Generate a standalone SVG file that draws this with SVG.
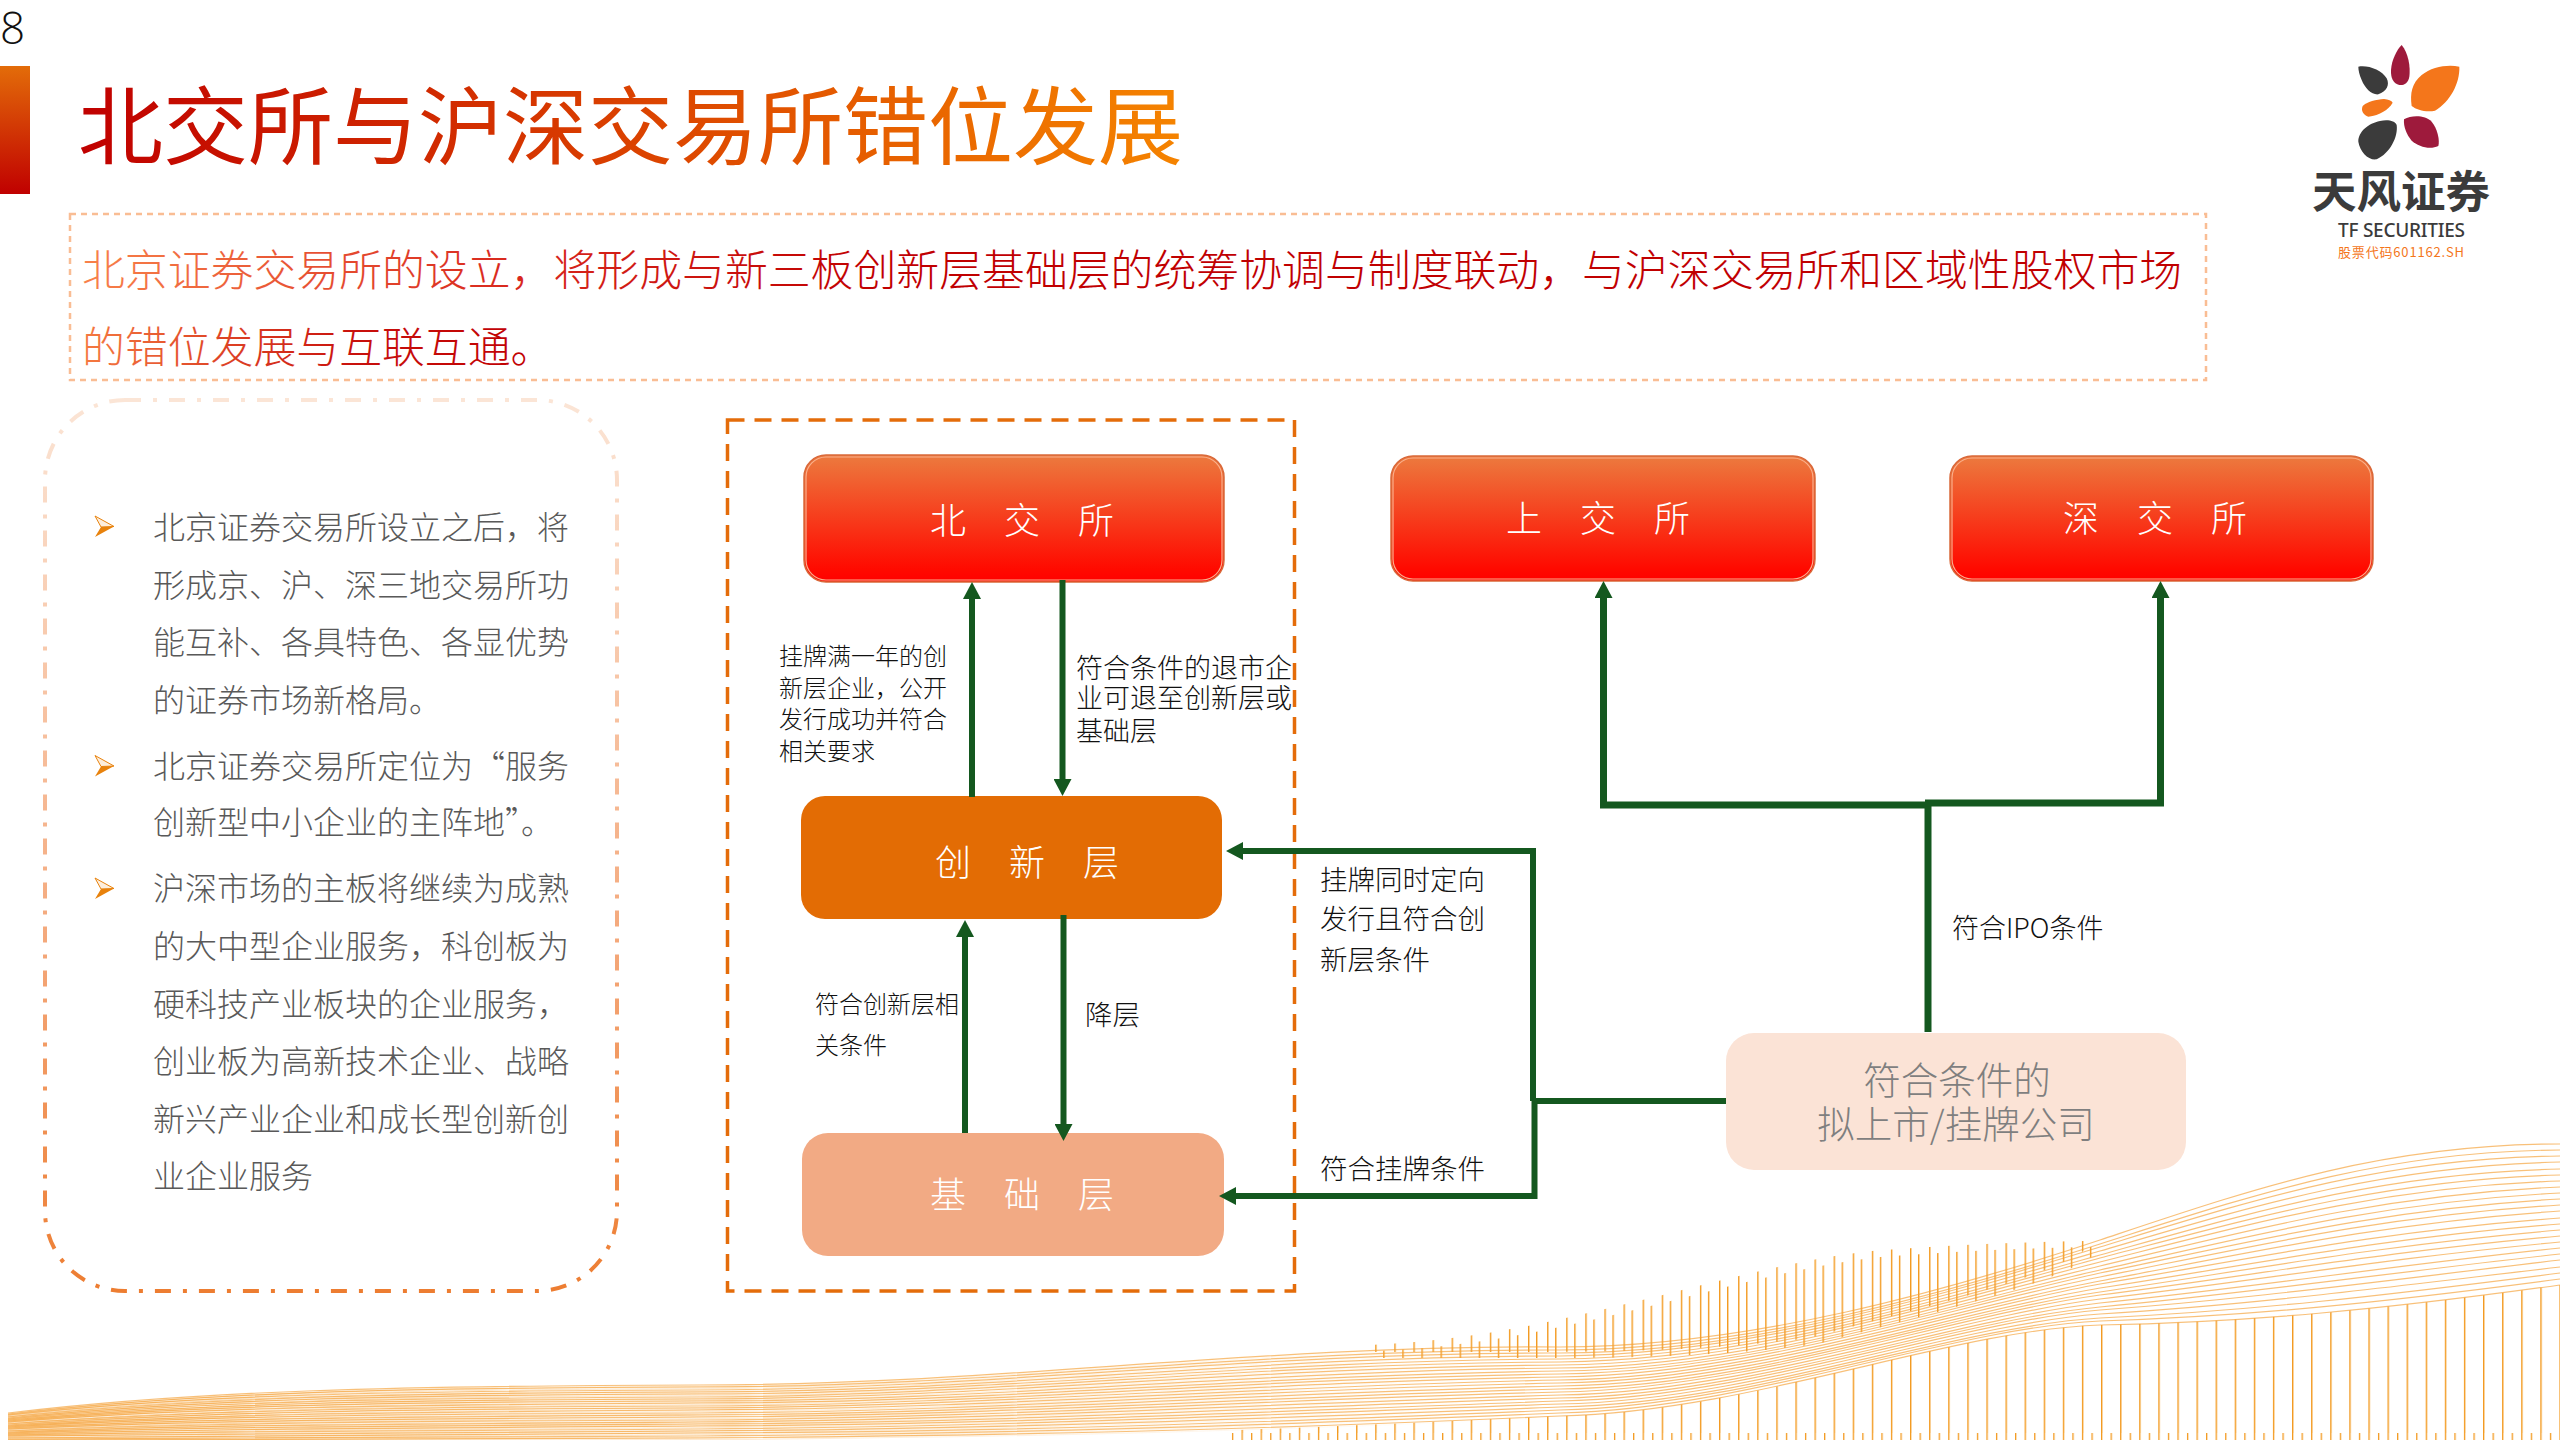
<svg xmlns="http://www.w3.org/2000/svg" width="2560" height="1440" viewBox="0 0 2560 1440">
<style>
text{font-family:"Noto Sans CJK SC","Noto Sans",sans-serif;font-weight:300}
.conn{fill:none;stroke:#14581f;stroke-width:6}
.ipo{stroke-width:7}
.arr{marker-end:url(#ah)}
.lab{font-size:24px;fill:#111}
.lab27{font-size:27.5px;fill:#111}
.nl{font-size:36px;fill:#fff;text-anchor:middle;word-spacing:30px}
.bt{font-size:32px;fill:#595959}
.wl path{fill:none;stroke:#f4a033;stroke-width:1.2;stroke-opacity:.66}
.ex{fill:url(#ng);stroke:#d9693a;stroke-width:1.5}
.exi{fill:none;stroke:#f9b08c;stroke-width:1.2}
.pt{fill:#fdeedd;stroke:#e8820c;stroke-width:1}
.pb{fill:#e8820c}
</style>
<defs>
<linearGradient id="bar" x1="0" y1="0" x2="0" y2="1"><stop offset="0" stop-color="#e36c09"/><stop offset="1" stop-color="#c00000"/></linearGradient>
<linearGradient id="tg" gradientUnits="userSpaceOnUse" x1="79" y1="0" x2="1178" y2="0"><stop offset="0" stop-color="#c00000"/><stop offset="1" stop-color="#f58300"/></linearGradient>
<linearGradient id="h1" gradientUnits="userSpaceOnUse" x1="82" y1="0" x2="2182" y2="0"><stop offset="0" stop-color="#f8814a"/><stop offset=".2" stop-color="#d92a1e"/><stop offset=".38" stop-color="#c00000"/><stop offset="1" stop-color="#c00000"/></linearGradient>
<linearGradient id="h2" gradientUnits="userSpaceOnUse" x1="82" y1="0" x2="540" y2="0"><stop offset="0" stop-color="#f57a40"/><stop offset=".6" stop-color="#c8100c"/><stop offset="1" stop-color="#c00000"/></linearGradient>
<linearGradient id="ng" x1="0" y1="0" x2="0" y2="1"><stop offset="0" stop-color="#ec7a3e"/><stop offset=".9" stop-color="#ff0a00"/><stop offset="1" stop-color="#ff0000"/></linearGradient>
<linearGradient id="lb" x1="0" y1="0" x2="0" y2="1"><stop offset="0" stop-color="#fbe5d6"/><stop offset=".6" stop-color="#f4a97c"/><stop offset="1" stop-color="#ed7d31"/></linearGradient>
<linearGradient id="fg" gradientUnits="userSpaceOnUse" x1="100" y1="0" x2="1500" y2="0"><stop offset="0" stop-color="#fff"/><stop offset="1" stop-color="#000"/></linearGradient>
<marker id="ah" markerUnits="userSpaceOnUse" markerWidth="18" markerHeight="18" refX="5" refY="9" orient="auto"><path d="M0 0L17 9L0 18Z" fill="#14581f"/></marker>
<pattern id="comb" patternUnits="userSpaceOnUse" width="19.1" height="10"><rect x="0" y="0" width="1.4" height="10" fill="#f39a20"/></pattern>
<pattern id="tick" patternUnits="userSpaceOnUse" width="9.55" height="10"><rect x="0" y="0" width="1.3" height="10" fill="#f39a20"/></pattern>
<mask id="fade" maskUnits="userSpaceOnUse" x="0" y="1300" width="1500" height="140"><rect x="0" y="1300" width="1500" height="140" fill="url(#fg)"/></mask>
</defs>
<rect width="2560" height="1440" fill="#fff"/>
<g id="wave">
<path fill="url(#comb)" d="M1370 1345C1480 1340 1560 1320 1655 1297C1740 1275 1820 1255 1884 1250C1950 1245 2020 1242 2085 1241V1250C2040 1280 1950 1300 1810 1338C1720 1350 1620 1352 1540 1352L1370 1352Z"/>
<path fill="url(#comb)" transform="translate(8,6)" d="M1370 1345C1480 1340 1560 1320 1655 1297C1740 1275 1820 1255 1884 1250C1950 1245 2020 1242 2085 1241V1250C2040 1280 1950 1300 1810 1338C1720 1350 1620 1352 1540 1352L1370 1352Z"/>
<path fill="url(#comb)" d="M1240 1430C1350 1426 1450 1421 1560 1416C1750 1412 1950 1330 2100 1325C2250 1322 2380 1310 2560 1285V1433H1240Z"/>
<rect x="1225" y="1433" width="1335" height="7" fill="url(#tick)"/>
<g class="wl" id="wavelines">
<path d="M8 1413C200 1390 400 1386 700 1385C1000 1385 1250 1345 1560 1347C1750 1347 1950 1290 2100 1240C2250 1190 2380 1144 2560 1144"/>
<path d="M8 1414C200 1392 400 1388 700 1387C1000 1387 1250 1349 1560 1350C1750 1350 1950 1292 2100 1244C2250 1196 2380 1151 2560 1150"/>
<path d="M8 1415C200 1394 400 1391 700 1390C1000 1389 1250 1352 1560 1353C1750 1353 1950 1293 2100 1247C2250 1201 2380 1158 2560 1156"/>
<path d="M8 1417C200 1397 400 1393 700 1392C1000 1392 1250 1356 1560 1356C1750 1355 1950 1295 2100 1251C2250 1207 2380 1166 2560 1162"/>
<path d="M8 1418C200 1399 400 1395 700 1394C1000 1394 1250 1360 1560 1359C1750 1358 1950 1297 2100 1255C2250 1213 2380 1173 2560 1169"/>
<path d="M8 1419C200 1401 400 1398 700 1397C1000 1396 1250 1363 1560 1362C1750 1361 1950 1299 2100 1258C2250 1219 2380 1180 2560 1175"/>
<path d="M8 1420C200 1403 400 1400 700 1399C1000 1398 1250 1367 1560 1365C1750 1364 1950 1300 2100 1262C2250 1224 2380 1187 2560 1181"/>
<path d="M8 1421C200 1405 400 1402 700 1401C1000 1401 1250 1371 1560 1368C1750 1367 1950 1302 2100 1266C2250 1230 2380 1195 2560 1187"/>
<path d="M8 1422C200 1407 400 1405 700 1403C1000 1403 1250 1375 1560 1371C1750 1370 1950 1304 2100 1270C2250 1236 2380 1202 2560 1193"/>
<path d="M8 1424C200 1410 400 1407 700 1406C1000 1405 1250 1378 1560 1374C1750 1372 1950 1306 2100 1273C2250 1242 2380 1209 2560 1199"/>
<path d="M8 1425C200 1412 400 1409 700 1408C1000 1407 1250 1382 1560 1377C1750 1375 1950 1307 2100 1277C2250 1247 2380 1216 2560 1205"/>
<path d="M8 1426C200 1414 400 1412 700 1410C1000 1409 1250 1386 1560 1380C1750 1378 1950 1309 2100 1281C2250 1253 2380 1223 2560 1211"/>
<path d="M8 1427C200 1416 400 1414 700 1413C1000 1412 1250 1389 1560 1383C1750 1381 1950 1311 2100 1284C2250 1259 2380 1231 2560 1218"/>
<path d="M8 1428C200 1418 400 1417 700 1415C1000 1414 1250 1393 1560 1386C1750 1384 1950 1313 2100 1288C2250 1265 2380 1238 2560 1224"/>
<path d="M8 1429C200 1420 400 1419 700 1417C1000 1416 1250 1397 1560 1389C1750 1387 1950 1314 2100 1292C2250 1270 2380 1245 2560 1230"/>
<path d="M8 1431C200 1423 400 1421 700 1420C1000 1418 1250 1400 1560 1392C1750 1389 1950 1316 2100 1295C2250 1276 2380 1252 2560 1236"/>
<path d="M8 1432C200 1425 400 1424 700 1422C1000 1420 1250 1404 1560 1395C1750 1392 1950 1318 2100 1299C2250 1282 2380 1259 2560 1242"/>
<path d="M8 1433C200 1427 400 1426 700 1424C1000 1423 1250 1408 1560 1398C1750 1395 1950 1320 2100 1303C2250 1288 2380 1267 2560 1248"/>
<path d="M8 1434C200 1429 400 1428 700 1426C1000 1425 1250 1412 1560 1401C1750 1398 1950 1321 2100 1307C2250 1293 2380 1274 2560 1254"/>
<path d="M8 1435C200 1431 400 1431 700 1429C1000 1427 1250 1415 1560 1404C1750 1401 1950 1323 2100 1310C2250 1299 2380 1281 2560 1260"/>
<path d="M8 1436C200 1433 400 1433 700 1431C1000 1429 1250 1419 1560 1407C1750 1404 1950 1325 2100 1314C2250 1305 2380 1288 2560 1267"/>
<path d="M8 1438C200 1436 400 1435 700 1433C1000 1432 1250 1423 1560 1410C1750 1406 1950 1327 2100 1318C2250 1311 2380 1296 2560 1273"/>
<path d="M8 1439C200 1438 400 1438 700 1436C1000 1434 1250 1426 1560 1413C1750 1409 1950 1328 2100 1321C2250 1316 2380 1303 2560 1279"/>
<path d="M8 1440C200 1440 400 1440 700 1438C1000 1436 1250 1430 1560 1416C1750 1412 1950 1330 2100 1325C2250 1322 2380 1310 2560 1285"/>
</g>
<g mask="url(#fade)" opacity=".6"><use href="#wavelines" transform="translate(0,1.6)"/></g>
</g>
<g id="header">
<text x="0" y="44" style="font-family:'Open Sans',sans-serif;font-size:44px;font-weight:300" fill="#111">8</text>
<rect x="0" y="66" width="30" height="128" fill="url(#bar)"/>
<text x="78" y="158" font-size="85" fill="url(#tg)" style="font-weight:400">北交所与沪深交易所错位发展</text>
</g>
<g id="logo">
<g transform="translate(2240,20) scale(.33333)">
<path fill="#9e1a3c" d="M485 75C505 100 512 140 508 170C505 190 490 197 478 195C460 190 452 175 453 150C455 120 470 90 485 75Z"/>
<path fill="#3b3b3b" d="M355 140C385 135 425 150 440 175C450 195 440 215 415 223C395 225 375 205 365 180C358 165 355 150 355 140Z"/>
<path fill="#f4761b" d="M658 140C660 190 630 245 585 272C560 278 530 270 515 258C510 220 515 190 545 165C575 140 625 132 658 140Z"/>
<path fill="#f4761b" d="M458 248C445 270 420 285 385 290C370 285 362 272 368 258C380 245 410 238 432 237C445 238 455 242 458 248Z"/>
<path fill="#3b3b3b" d="M470 315C475 350 450 400 410 418C385 422 360 395 355 365C355 335 385 310 420 303C445 298 465 303 470 315Z"/>
<path fill="#9e1a3c" d="M492 298C515 285 555 285 575 305C592 325 600 360 595 378C570 390 535 380 515 362C500 345 490 320 492 298Z"/>
</g>
<text x="2401" y="208" font-size="44.5" text-anchor="middle" fill="#3b3b3b" style="font-weight:700">天风证券</text>
<text x="2338" y="237" font-size="19" textLength="127" fill="#3b3b3b" style="font-family:'Noto Sans',sans-serif;font-weight:500">TF SECURITIES</text>
<text x="2338" y="257" font-size="13" textLength="126" fill="#f4761b" style="font-weight:400">股票代码601162.SH</text>
</g>
<g id="intro">
<rect x="70" y="214" width="2136" height="166" fill="none" stroke="#f9bd94" stroke-width="2.500" stroke-dasharray="6 5"/>
<text x="82" y="286" font-size="42.86" fill="url(#h1)">北京证券交易所的设立，将形成与新三板创新层基础层的统筹协调与制度联动，与沪深交易所和区域性股权市场</text>
<text x="82" y="363" font-size="42.86" fill="url(#h2)">的错位发展与互联互通。</text>
</g>
<g id="bullets">
<rect x="45" y="400" width="572" height="891" rx="80" ry="80" fill="none" stroke="url(#lb)" stroke-width="4" stroke-dasharray="16 12 4 12"/>
<g id="b1"><path class="pt" d="M95 516L114 526.500L101 527Z"/><path class="pb" d="M95 537L114 526.500L101 527Z"/></g>
<g id="b2"><path class="pt" d="M95 755.500L114 766L101 766.500Z"/><path class="pb" d="M95 776.500L114 766L101 766.500Z"/></g>
<g id="b3"><path class="pt" d="M95 878L114 888.500L101 889Z"/><path class="pb" d="M95 899L114 888.500L101 889Z"/></g>
<text class="bt" x="153" y="539">北京证券交易所设立之后，将</text>
<text class="bt" x="153" y="597">形成京、沪、深三地交易所功</text>
<text class="bt" x="153" y="654">能互补、各具特色、各显优势</text>
<text class="bt" x="153" y="712">的证券市场新格局。</text>
<text class="bt" x="153" y="778">北京证券交易所定位为“服务</text>
<text class="bt" x="153" y="834">创新型中小企业的主阵地”。</text>
<text class="bt" x="153" y="900">沪深市场的主板将继续为成熟</text>
<text class="bt" x="153" y="958">的大中型企业服务，科创板为</text>
<text class="bt" x="153" y="1016">硬科技产业板块的企业服务，</text>
<text class="bt" x="153" y="1073">创业板为高新技术企业、战略</text>
<text class="bt" x="153" y="1131">新兴产业企业和成长型创新创</text>
<text class="bt" x="153" y="1188">业企业服务</text>
</g>
<g id="frame"><rect x="727.500" y="420" width="567" height="871" fill="none" stroke="#e46c0a" stroke-width="3.500" stroke-dasharray="17 10"/></g>
<g id="n-bjs"><rect class="ex" x="804" y="455" width="420" height="127" rx="22"/><rect class="exi" x="806" y="457" width="416" height="123" rx="20"/><text class="nl" x="1022" y="534">北 交 所</text></g>
<g id="n-sse"><rect class="ex" x="1391" y="456" width="424" height="125" rx="22"/><rect class="exi" x="1393" y="458" width="420" height="121" rx="20"/><text class="nl" x="1598" y="532">上 交 所</text></g>
<g id="n-szse"><rect class="ex" x="1950" y="456" width="423" height="125" rx="22"/><rect class="exi" x="1952" y="458" width="419" height="121" rx="20"/><text class="nl" x="2155" y="532">深 交 所</text></g>
<g id="n-cx"><rect x="801" y="796" width="421" height="123" rx="24" fill="#e36c04"/><text class="nl" x="1027" y="876">创 新 层</text></g>
<g id="n-jc"><rect x="802" y="1133" width="422" height="123" rx="26" fill="#f2aa84"/><text class="nl" x="1022" y="1208">基 础 层</text></g>
<g id="n-co"><rect x="1726" y="1033" width="460" height="137" rx="28" fill="#fbe3d6"/><text x="1957" y="1094" font-size="37.500" text-anchor="middle" fill="#7f7f7f">符合条件的</text><text x="1956" y="1138" font-size="37.500" text-anchor="middle" fill="#7f7f7f">拟上市/挂牌公司</text></g>
<g id="connectors">
<path class="conn arr" d="M972 797V594"/>
<path class="conn arr" d="M1062.500 580V784"/>
<path class="conn arr" d="M965 1133V932"/>
<path class="conn arr" d="M1063.500 915V1129"/>
<path class="conn" d="M1726 1101H1533"/>
<path class="conn arr" d="M1533 1101V851H1238"/>
<path class="conn arr" d="M1534.500 1101V1196H1231"/>
<path class="conn ipo" d="M1928 1032V805"/>
<path class="conn ipo arr" d="M1931 805H1603.500V593"/>
<path class="conn ipo arr" d="M1925 803H2160.500V593"/>
</g>
<g id="labels">
<text class="lab" x="779" y="665">挂牌满一年的创</text>
<text class="lab" x="779" y="697">新层企业，公开</text>
<text class="lab" x="779" y="728">发行成功并符合</text>
<text class="lab" x="779" y="760">相关要求</text>
<text class="lab27" x="1076" y="678" style="font-size:27px">符合条件的退市企</text>
<text class="lab27" x="1076" y="708" style="font-size:27px">业可退至创新层或</text>
<text class="lab27" x="1076" y="741" style="font-size:27px">基础层</text>
<text class="lab27" x="1320" y="890">挂牌同时定向</text>
<text class="lab27" x="1320" y="929">发行且符合创</text>
<text class="lab27" x="1320" y="970">新层条件</text>
<text class="lab27" x="1320" y="1179">符合挂牌条件</text>
<text class="lab" x="815" y="1013">符合创新层相</text>
<text class="lab" x="815" y="1054">关条件</text>
<text class="lab27" x="1085" y="1025">降层</text>
<text class="lab27" x="1952" y="938" style="font-size:27px">符合IPO条件</text>
</g>
</svg>
